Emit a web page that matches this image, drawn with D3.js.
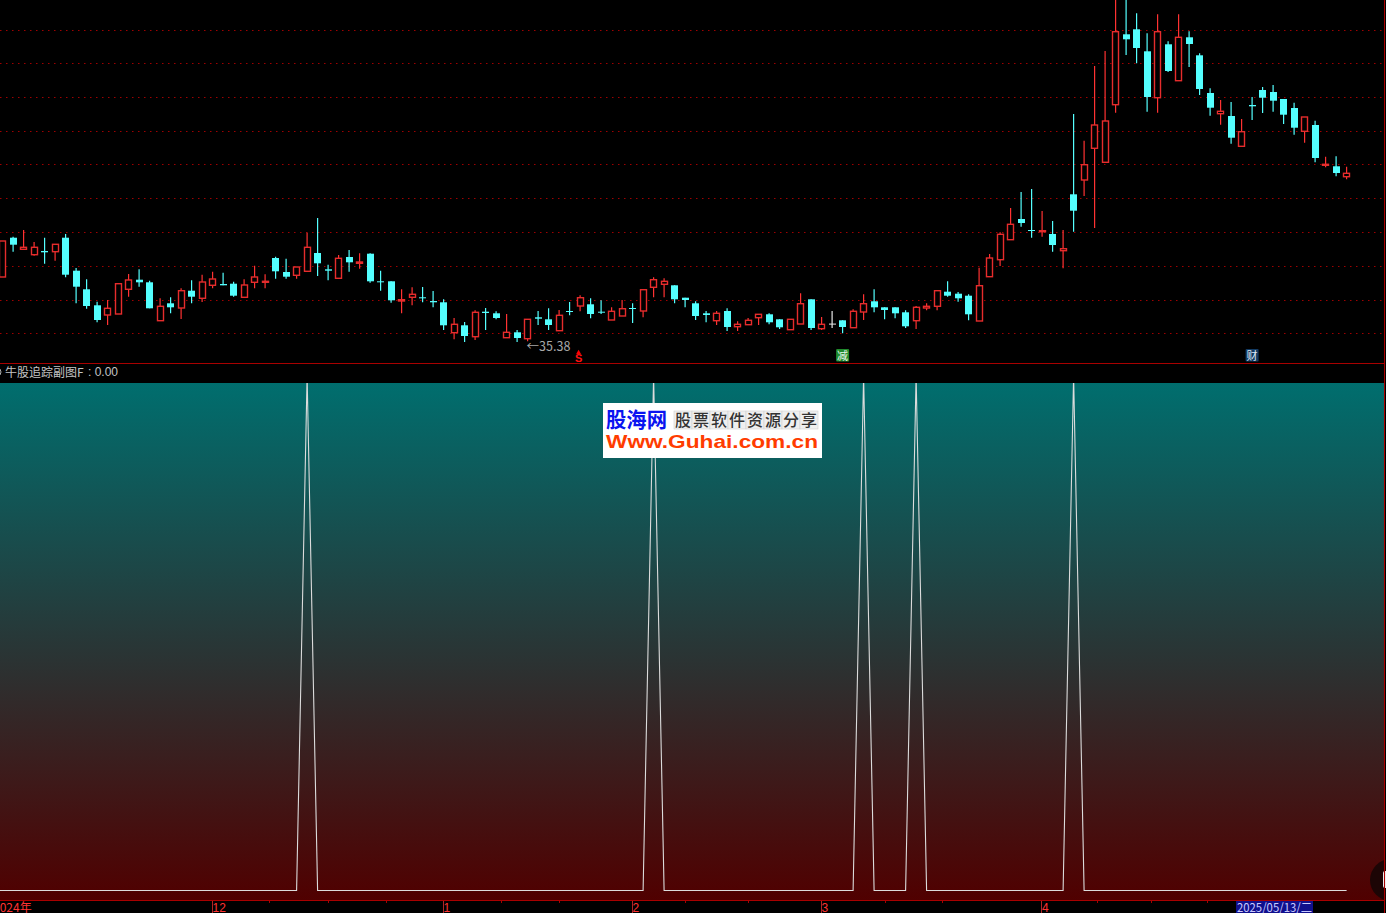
<!DOCTYPE html>
<html><head><meta charset="utf-8">
<script src="https://cdnjs.cloudflare.com/ajax/libs/d3/7.8.5/d3.min.js"></script>
<style>html,body{margin:0;padding:0;background:#000;overflow:hidden}svg{display:block}</style>
</head><body><svg id="c" width="1386" height="913"></svg>
<script>
const opens=[41.80,45.73,44.57,44.03,44.40,44.33,45.73,42.43,40.57,38.97,38.00,38.10,40.57,41.53,41.27,37.43,39.17,38.70,40.43,39.67,
40.97,41.10,41.13,39.77,41.27,41.27,43.70,42.30,41.97,42.37,44.20,42.57,41.67,43.80,43.17,44.13,41.37,41.37,39.40,39.77,
39.77,39.40,39.27,36.23,36.97,35.83,38.33,38.17,35.73,36.27,35.63,37.77,37.57,36.43,38.40,38.90,39.07,38.33,37.50,37.90,
38.70,38.40,40.77,41.07,40.97,39.73,39.17,38.17,37.43,38.40,36.83,37.03,37.73,38.07,37.57,36.53,37.10,39.57,36.63,37.14,
37.47,36.73,38.30,39.37,38.77,38.77,38.27,37.43,38.70,38.87,40.33,40.13,39.93,37.40,41.83,43.53,45.53,47.60,46.50,46.33,
46.10,44.43,50.07,51.50,54.67,53.27,59.03,66.07,66.57,64.37,59.73,65.07,61.43,65.77,63.97,60.20,58.13,57.90,54.87,59.00,
60.50,60.30,59.60,58.70,56.37,57.00,53.00,52.87,51.83];
const closes=[45.40,45.03,44.77,44.77,44.27,45.07,42.03,40.83,38.90,37.50,38.67,41.13,41.50,41.27,38.67,38.87,38.77,40.43,39.83,41.30,
41.60,40.97,39.93,41.00,41.80,41.37,42.37,41.83,42.80,44.77,43.17,42.43,43.67,43.27,43.30,41.37,41.27,39.47,39.53,40.07,
39.67,39.27,36.97,37.07,35.90,38.27,38.20,37.70,36.27,35.70,37.57,37.63,37.00,37.97,38.30,39.73,38.10,38.23,38.37,38.63,
38.60,40.53,41.53,41.37,39.57,39.50,37.90,38.00,38.17,36.80,37.07,37.47,38.07,37.27,36.77,37.57,39.13,36.70,37.07,37.14,
36.80,38.37,39.13,38.77,38.50,38.17,36.87,38.77,38.87,40.43,39.93,39.67,38.07,40.93,43.70,46.07,47.07,47.20,46.40,46.43,
45.00,44.63,48.43,53.03,57.00,57.40,66.33,65.57,64.70,59.80,66.33,62.40,65.77,65.10,60.60,58.73,58.37,55.73,56.33,58.87,
59.73,59.43,58.03,56.73,57.80,53.70,53.07,52.20,52.17];
const highs=[45.40,45.83,46.50,45.30,45.73,45.07,46.10,42.70,41.57,39.33,39.50,41.13,42.10,42.57,41.43,39.67,39.77,40.67,41.47,42.03,
42.33,42.23,41.33,41.57,42.93,42.07,43.83,43.63,42.80,46.23,47.70,43.03,44.00,44.50,44.17,44.17,42.43,41.37,40.57,40.77,
40.80,40.40,39.57,37.70,37.30,38.47,38.70,38.37,38.10,36.50,37.57,38.40,38.67,38.50,39.30,39.97,39.67,39.47,38.77,39.50,
39.17,40.53,41.77,41.67,40.97,39.73,39.37,38.40,38.40,38.67,37.37,37.70,38.07,38.17,37.57,37.57,40.17,39.57,37.80,38.40,
37.47,38.57,40.07,40.57,38.77,38.77,38.47,38.90,39.17,40.43,41.37,40.30,40.07,42.73,44.10,46.27,48.70,50.30,50.60,48.40,
47.40,46.50,58.10,55.43,62.90,64.40,69.60,70.00,68.17,66.17,68.07,65.37,68.07,66.37,64.17,60.67,59.50,59.30,57.60,59.80,
60.80,61.00,59.60,59.23,57.80,57.43,53.83,53.87,52.83];
const lows=[41.80,44.33,44.57,43.93,43.13,43.43,41.77,39.17,38.63,37.27,37.00,38.10,39.83,40.83,38.67,37.43,38.17,37.60,39.17,39.30,
40.67,40.97,39.83,39.77,40.67,40.67,41.63,41.63,41.63,42.37,41.90,41.47,41.67,42.33,42.63,41.23,40.43,39.23,38.17,38.97,
39.27,38.77,36.50,35.57,35.30,35.50,36.50,37.57,35.73,35.30,35.38,37.00,36.50,36.43,37.97,38.37,37.67,38.10,37.50,37.90,
37.20,37.77,39.77,39.77,39.17,38.77,37.50,37.27,37.00,36.40,36.40,37.03,37.00,37.07,36.60,36.53,37.10,36.50,36.50,36.70,
36.17,36.73,37.50,38.27,37.57,37.67,36.70,36.60,38.47,38.47,39.83,39.33,37.47,37.40,41.83,42.90,45.53,46.83,45.73,45.83,
44.33,42.67,46.33,49.90,46.70,53.27,58.23,64.00,63.17,58.33,58.23,62.30,61.43,62.80,60.00,57.93,57.03,55.13,54.87,57.50,
58.20,58.33,57.10,56.03,55.23,53.27,52.77,51.87,51.57];
const gridPrices=[66.50,63.15,59.78,56.40,53.03,49.67,46.27,42.88,39.50,36.14];
const indicator=[0,0,0,0,0,0,0,0,0,0,0,0,0,0,0,0,0,0,0,0,
0,0,0,0,0,0,0,0,0,0,100,0,0,0,0,0,0,0,0,0,
0,0,0,0,0,0,0,0,0,0,0,0,0,0,0,0,0,0,0,0,
0,0,0,100,0,0,0,0,0,0,0,0,0,0,0,0,0,0,0,0,
0,0,0,100,0,0,0,0,100,0,0,0,0,0,0,0,0,0,0,0,
0,0,0,100,0,0,0,0,0,0,0,0,0,0,0,0,0,0,0,0,
0,0,0,0,0,0,0,0,0,0];
const monthTicks=[20,42,60,78,99];
const monthLabels=["12","1","2","3","4"];
const minorTicks=[25.4,31,36.5,47.5,53,65,71,84,89.5,104.2,109.4,114.7];
const signals=[{i:55,t:"S",k:"s"},{i:80,t:"减",k:"g"},{i:119,t:"财",k:"b"}];
const lowIndex=50, lowLabel="35.38";
const indicatorTitle="牛股追踪副图F", indicatorValue=": 0.00", yearLabel="2024年", dateLabel="2025/05/13/二";

const UP="#ff3232",DOWN="#54ffff",FRAME="#a80000",FONT="'Noto Sans CJK SC','Noto Sans',sans-serif";
const svg=d3.select("#c");
const x=d3.scaleLinear().domain([0,128]).range([2.6,1346.6]);
const y=d3.scaleLinear().domain([69.5,33.2]).range([0,363]);
const yI=d3.scaleLinear().domain([0,100]).range([890.5,376]);
const defs=svg.append("defs");
const g=defs.append("linearGradient").attr("id","bg").attr("x1",0).attr("y1",0).attr("x2",0).attr("y2",1);
g.append("stop").attr("offset",0).attr("stop-color","#006e6e");
g.append("stop").attr("offset",1).attr("stop-color","#500000");
defs.append("clipPath").attr("id","pc").append("rect").attr("x",0).attr("y",0).attr("width",1384).attr("height",363);
defs.append("clipPath").attr("id","ic").append("rect").attr("x",0).attr("y",383).attr("width",1384).attr("height",517);

svg.append("rect").attr("width",1386).attr("height",913).attr("fill","#000");
// price panel
const pane=svg.append("g").attr("clip-path","url(#pc)");
pane.selectAll("line.grid").data(gridPrices).join("line").attr("class","grid")
 .attr("x1",0).attr("x2",1384).attr("y1",d=>Math.round(y(d)-.5)+.5).attr("y2",d=>Math.round(y(d)-.5)+.5)
 .attr("stroke","#a00000").attr("stroke-width",1).attr("stroke-dasharray","1.5 4.5");
const idx=d3.range(opens.length);
const col=i=>opens[i]===closes[i]?"#e8e8e8":(closes[i]>opens[i]?UP:DOWN);
pane.selectAll("line.w").data(idx).join("line").attr("class","w")
 .attr("x1",x).attr("x2",x).attr("y1",i=>y(highs[i])).attr("y2",i=>y(lows[i])).attr("stroke",col).attr("stroke-width",1.2);
pane.selectAll("rect.b").data(idx).join("rect").attr("class","b")
 .attr("x",i=>Math.round(x(i)-3.5)+(closes[i]>opens[i]?.5:0))
 .attr("width",i=>closes[i]>opens[i]?6:7)
 .attr("y",i=>y(Math.max(opens[i],closes[i])))
 .attr("height",i=>Math.max(1,Math.abs(y(opens[i])-y(closes[i]))))
 .attr("fill",i=>closes[i]>opens[i]?"#000":col(i))
 .attr("stroke",i=>closes[i]>opens[i]?"#e62c2c":"none").attr("stroke-width",1.4);
// low label
pane.append("text").attr("x",x(lowIndex)-1).attr("y",y(lows[lowIndex])+9.5).attr("fill","#a8a8a8")
 .attr("font-family",FONT).attr("font-size",12.5).text("←"+lowLabel);
// signals
signals.forEach(s=>{
 const cx=x(s.i)+(s.k==="s"?-1.5:0);
 if(s.k==="s"){
  pane.append("path").attr("d",d3.symbol(d3.symbolTriangle,10)()).attr("transform",`translate(${cx},352.5)`).attr("fill","#ff0000");
  pane.append("text").attr("x",cx).attr("y",362).attr("text-anchor","middle").attr("fill","#ff1010")
   .attr("font-family","'Liberation Sans',sans-serif").attr("font-weight","bold").attr("font-size",11).text(s.t);
 } else {
  pane.append("rect").attr("x",cx-6.5).attr("y",349).attr("width",13).attr("height",12.5).attr("rx",1).attr("fill",s.k==="g"?"#1f8a2c":"#123a62");
  pane.append("text").attr("x",cx).attr("y",359.5).attr("text-anchor","middle").attr("fill",s.k==="g"?"#e8f4e8":"#dfe8f4")
   .attr("font-family",FONT).attr("font-size",11).text(s.t);
 }
});
// title strip
svg.append("circle").attr("cx",-3).attr("cy",372).attr("r",4).attr("fill","none").attr("stroke","#b0b0b0");
svg.append("text").attr("x",5).attr("y",376.5).attr("fill","#c4c4c4").attr("font-family",FONT).attr("font-size",12).text(indicatorTitle);
svg.append("text").attr("x",88).attr("y",376).attr("fill","#c4c4c4").attr("font-family","'Liberation Sans',sans-serif").attr("font-size",12).text(indicatorValue);
// indicator panel
svg.append("rect").attr("x",0).attr("y",383).attr("width",1384).attr("height",517).attr("fill","url(#bg)");
const line=d3.line().x((d,i)=>x(i-1)).y(d=>yI(d));
svg.append("g").attr("clip-path","url(#ic)").append("path").datum(indicator)
 .attr("d",line).attr("fill","none").attr("stroke","#dcdcdc").attr("stroke-width",1.1);
// corner badge
svg.append("circle").attr("cx",1391).attr("cy",880).attr("r",21).attr("fill","#1c0505");
svg.append("rect").attr("x",1383).attr("y",871).attr("width",6).attr("height",17).attr("rx",2).attr("fill","#eeeeee");
// logo
const L=svg.append("g");
L.append("rect").attr("x",603).attr("y",403).attr("width",219).attr("height",55).attr("fill","#fff");
L.append("text").attr("x",606).attr("y",427).attr("fill","#0a14f0").attr("font-family",FONT).attr("font-weight","bold").attr("font-size",21).attr("textLength",61).attr("lengthAdjust","spacingAndGlyphs").text("股海网");
const cells="股票软件资源分享".split("");
L.selectAll("rect.cell").data(cells).join("rect").attr("class","cell").attr("x",(d,i)=>674+i*18).attr("y",411).attr("width",18).attr("height",18).attr("fill","#efefef").attr("stroke","#d0d0d0").attr("stroke-width",.6);
L.selectAll("text.cell").data(cells).join("text").attr("class","cell").attr("x",(d,i)=>683+i*18).attr("y",425.5).attr("text-anchor","middle").attr("fill","#333").attr("font-family","'Noto Sans CJK SC',sans-serif").attr("font-weight","500").attr("font-size",16).text(d=>d);
L.append("text").attr("x",606).attr("y",448).attr("fill","#ff3c00").attr("font-family","'Liberation Sans',Arial,sans-serif").attr("font-weight","bold").attr("font-size",19).attr("textLength",212).attr("lengthAdjust","spacingAndGlyphs").text("Www.Guhai.com.cn");
// date axis
const axis=d3.axisBottom(x).tickValues(monthTicks).tickSize(13).tickPadding(0).tickFormat("");
const ax=svg.append("g").attr("transform","translate(-1,900)").call(axis);
ax.select(".domain").remove();
ax.selectAll(".tick line").attr("stroke",UP).attr("stroke-opacity",.7).attr("shape-rendering","crispEdges");
const ax2=svg.append("g").attr("transform","translate(0,900)").call(d3.axisBottom(x).tickValues(minorTicks).tickSize(3).tickFormat(""));
ax2.select(".domain").remove();
ax2.selectAll(".tick line").attr("stroke",FRAME).attr("shape-rendering","crispEdges");
svg.selectAll("text.m").data(monthTicks).join("text").attr("class","m").attr("x",d=>x(d)).attr("y",911.5).attr("fill","#ff3232").attr("font-family","'Liberation Sans',sans-serif").attr("font-size",12).text((d,i)=>monthLabels[i]);
svg.append("text").attr("x",-7).attr("y",911.5).attr("fill","#ff3232").attr("font-family",FONT).attr("font-size",12).text(yearLabel);
svg.append("rect").attr("x",1236).attr("y",901).attr("width",77).attr("height",12).attr("fill","#10108c");
svg.append("text").attr("x",1237).attr("y",911.5).attr("fill","#c8c8ff").attr("font-family",FONT).attr("font-size",12).attr("textLength",75).attr("lengthAdjust","spacingAndGlyphs").text(dateLabel);
// frame
[[0,1384,363.5,363.5],[0,1384,900.5,900.5],[1384.5,1384.5,0,913]].forEach(a=>{
 svg.append("line").attr("x1",a[0]).attr("x2",a[1]).attr("y1",a[2]).attr("y2",a[3]).attr("stroke",FRAME).attr("stroke-width",1);
});
</script></body></html>
